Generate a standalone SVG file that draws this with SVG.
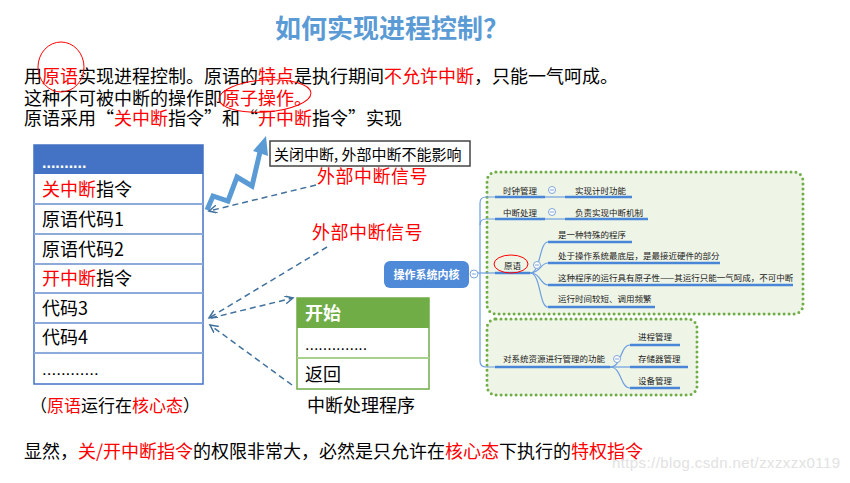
<svg xmlns="http://www.w3.org/2000/svg" width="850" height="483" viewBox="0 0 850 483">
<style>
text{font-family:"Noto Sans CJK SC","Liberation Sans",sans-serif;fill:#000}
.b{font-size:18px}
.r{fill:#ff0000}
.row{fill:#fff;stroke:none}
.sep{stroke:#8eaadb;stroke-width:2}
.gsep{stroke:#a9d18e;stroke-width:2}
.dash{fill:none;stroke:#41719c;stroke-width:1.5;stroke-dasharray:6,4}
.mm{font-size:8.5px;fill:#222}
.ul{stroke:#4a86d8;stroke-width:2.5;fill:none}
.tl{stroke:#6d9fe0;stroke-width:1.2;fill:none}
.ci{fill:#fff;stroke:#7fa6dc;stroke-width:1}
.grp{fill:#eef4e6;stroke:#70ad47;stroke-width:3;stroke-dasharray:0,5;stroke-linecap:round}
</style>
<defs>
<marker id="ah" markerWidth="10" markerHeight="10" refX="8" refY="4" orient="auto" markerUnits="userSpaceOnUse">
<path d="M0,0 L8,4 L0,8" fill="none" stroke="#41719c" stroke-width="1.5"/>
</marker>
</defs>
<rect width="850" height="483" fill="#fff"/>

<g id="title">
<text x="275" y="38" style="font-size:26px;font-weight:bold;fill:#5b9bd5">如何实现进程控制？</text>
</g>

<g id="intro">
<text class="b" x="24" y="83">用<tspan class="r">原语</tspan>实现进程控制。原语的<tspan class="r">特点</tspan>是执行期间<tspan class="r">不允许中断</tspan>，只能一气呵成。</text>
<text class="b" x="24" y="104.5">这种不可被中断的操作即<tspan class="r">原子操作。</tspan></text>
<text class="b" x="24" y="125">原语采用“<tspan class="r">关中断</tspan>指令”和“<tspan class="r">开中断</tspan>指令”实现</text>
<ellipse cx="61" cy="67" rx="23" ry="25" fill="none" stroke="#ff0000" stroke-width="1"/>
<ellipse cx="265" cy="96" rx="46" ry="16" fill="none" stroke="#ff0000" stroke-width="1" transform="rotate(-4 265 96)"/>
</g>

<g id="code-stack">
<rect x="34" y="145" width="169" height="239" fill="#fff" stroke="#4472c4" stroke-width="1.5"/>
<rect x="34" y="145" width="169" height="29" fill="#4472c4"/>
<text x="42" y="168" style="font-size:16px;font-weight:bold;fill:#fff;font-family:'Liberation Sans',sans-serif">..........</text>
<line class="sep" x1="34" y1="204" x2="203" y2="204"/>
<line class="sep" x1="34" y1="234" x2="203" y2="234"/>
<line class="sep" x1="34" y1="264" x2="203" y2="264"/>
<line class="sep" x1="34" y1="293" x2="203" y2="293"/>
<line class="sep" x1="34" y1="323" x2="203" y2="323"/>
<line class="sep" x1="34" y1="353" x2="203" y2="353"/>
<text class="b" x="42" y="196"><tspan class="r">关中断</tspan>指令</text>
<text class="b" x="42" y="226">原语代码1</text>
<text class="b" x="42" y="256">原语代码2</text>
<text class="b" x="42" y="285"><tspan class="r">开中断</tspan>指令</text>
<text class="b" x="42" y="315">代码3</text>
<text class="b" x="42" y="344">代码4</text>
<text x="42" y="375" style="font-size:17px;font-family:'Liberation Sans',sans-serif">............</text>
<text x="30" y="412" style="font-size:17px">（<tspan class="r">原语</tspan>运行在<tspan class="r">核心态</tspan>）</text>
</g>

<g id="lightning">
<polyline points="207,210 213,196 228,201 237,177 252,186 260,152" fill="none" stroke="#5b9bd5" stroke-width="5" stroke-linejoin="miter"/>
<polygon points="266,136 268,156 253,151" fill="#5b9bd5"/>
</g>

<g id="note-box">
<rect x="270" y="141" width="200" height="25" fill="#fff" stroke="#444" stroke-width="1.5"/>
<text x="274" y="160" style="font-size:15px">关闭中断, 外部中断不能影响</text>
</g>

<g id="signal-1">
<text class="b r" x="317" y="183" style="letter-spacing:0.5px">外部中断信号</text>
</g>
<g id="signal-2">
<text class="b r" x="312" y="239" style="letter-spacing:0.5px">外部中断信号</text>
</g>

<g id="handler">
<rect x="297" y="298" width="132" height="91" fill="#fff" stroke="#70ad47" stroke-width="1.5"/>
<rect x="297" y="298" width="132" height="30" fill="#70ad47"/>
<line class="gsep" x1="297" y1="358" x2="429" y2="358"/>
<text x="305" y="320" style="font-size:18px;fill:#fff;font-weight:bold">开始</text>
<text x="305" y="350" style="font-size:16px;font-family:'Liberation Sans',sans-serif">..............</text>
<text class="b" x="305" y="381">返回</text>
<text class="b" x="307" y="412">中断处理程序</text>
</g>

<g id="connectors">
<line class="dash" x1="316" y1="185" x2="209" y2="211" marker-end="url(#ah)"/>
<line class="dash" x1="327" y1="247" x2="209" y2="318" marker-end="url(#ah)"/>
<line class="dash" x1="211" y1="318" x2="293" y2="298" marker-end="url(#ah)"/>
<line class="dash" x1="292" y1="385" x2="210" y2="325" marker-end="url(#ah)"/>
</g>

<g id="mindmap">
<rect class="grp" x="487" y="172" width="316" height="142" rx="9"/>
<rect class="grp" x="487" y="319" width="210" height="76" rx="9"/>
<g id="mm-lines">
<path class="tl" d="M478,273 H495"/>
<path class="tl" d="M495,197 H486 Q480,197 480,203 V361 Q480,367 486,367 H495"/>
<path class="tl" d="M480,225 Q480,219 486,219 H495"/>
<path class="tl" d="M545,197 H565"/>
<path class="tl" d="M545,219 H565"/>
<path class="tl" d="M530,273 C541,273 539,242 548,242"/>
<path class="tl" d="M530,273 C541,273 540,263 548,263"/>
<path class="tl" d="M530,273 C541,273 540,285 548,285"/>
<path class="tl" d="M530,273 C541,273 539,307 548,307"/>
<path class="tl" d="M610,367 C622,367 620,345 630,345"/>
<path class="tl" d="M610,367 H630"/>
<path class="tl" d="M610,367 C622,367 620,388 630,388"/>
</g>
<g id="mm-root">
<rect x="384" y="261" width="85" height="27" rx="6" fill="#4f8ad9"/>
<text x="426.5" y="278.5" text-anchor="middle" style="font-size:11px;font-weight:bold;fill:#fff">操作系统内核</text>
<circle class="ci" cx="474" cy="274" r="4"/>
<line x1="472" y1="274" x2="476" y2="274" stroke="#7fa6dc"/>
</g>
<g id="mm-clock">
<text class="mm" x="503" y="194">时钟管理</text>
<line class="ul" x1="495" y1="197" x2="545" y2="197"/>
<circle class="ci" cx="552" cy="190" r="3.5"/>
<line x1="550" y1="190" x2="554" y2="190" stroke="#7fa6dc"/>
<text class="mm" x="575" y="194">实现计时功能</text>
<line class="ul" x1="565" y1="197" x2="632" y2="197"/>
</g>
<g id="mm-intr">
<text class="mm" x="503" y="216">中断处理</text>
<line class="ul" x1="495" y1="219" x2="545" y2="219"/>
<circle class="ci" cx="552" cy="212" r="3.5"/>
<line x1="550" y1="212" x2="554" y2="212" stroke="#7fa6dc"/>
<text class="mm" x="575" y="216">负责实现中断机制</text>
<line class="ul" x1="565" y1="219" x2="648" y2="219"/>
</g>
<g id="mm-prim">
<text class="mm" x="504" y="269">原语</text>
<line class="ul" x1="495" y1="273" x2="530" y2="273"/>
<ellipse cx="511" cy="264" rx="17" ry="9" fill="none" stroke="#ff0000" stroke-width="1"/>
<circle class="ci" cx="537" cy="265" r="3.5"/>
<line x1="535" y1="265" x2="539" y2="265" stroke="#7fa6dc"/>
<text class="mm" x="558" y="238">是一种特殊的程序</text>
<line class="ul" x1="548" y1="242" x2="632" y2="242"/>
<text class="mm" x="558" y="259">处于操作系统最底层，是最接近硬件的部分</text>
<line class="ul" x1="548" y1="263" x2="720" y2="263"/>
<text class="mm" x="558" y="281">这种程序的运行具有原子性——其运行只能一气呵成，不可中断</text>
<line class="ul" x1="548" y1="285" x2="793" y2="285"/>
<text class="mm" x="558" y="302">运行时间较短、调用频繁</text>
<line class="ul" x1="548" y1="307" x2="655" y2="307"/>
</g>
<g id="mm-res">
<text class="mm" x="503" y="362">对系统资源进行管理的功能</text>
<line class="ul" x1="495" y1="367" x2="610" y2="367"/>
<circle class="ci" cx="617" cy="359" r="3.5"/>
<line x1="615" y1="359" x2="619" y2="359" stroke="#7fa6dc"/>
<text class="mm" x="638" y="340">进程管理</text>
<line class="ul" x1="630" y1="345" x2="680" y2="345"/>
<text class="mm" x="638" y="362">存储器管理</text>
<line class="ul" x1="630" y1="367" x2="688" y2="367"/>
<text class="mm" x="638" y="384">设备管理</text>
<line class="ul" x1="630" y1="388" x2="680" y2="388"/>
</g>
</g>

<g id="conclusion">
<text class="b" x="24" y="458">显然，<tspan class="r">关/开中断指令</tspan>的权限非常大，必然是只允许在<tspan class="r">核心态</tspan>下执行的<tspan class="r">特权指令</tspan></text>
</g>
<g id="watermark">
<text x="612" y="468" textLength="228" style="font-size:15px;font-family:'Liberation Sans',sans-serif;fill:#e2e2e2">https://blog.csdn.net/zxzxzx0119</text>
</g>
</svg>
